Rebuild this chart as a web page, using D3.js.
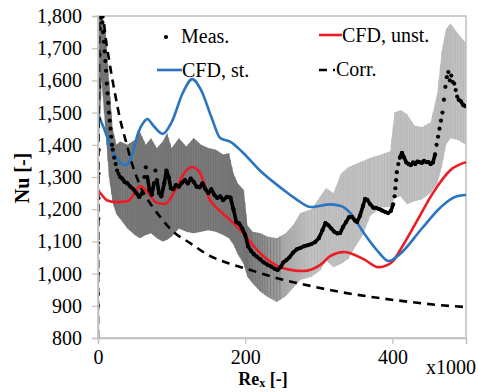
<!DOCTYPE html>
<html>
<head>
<meta charset="utf-8">
<script src="https://cdn.jsdelivr.net/npm/d3@7"></script>
<style>
  body { margin: 0; background: #fff; }
  #chart text { font-family: "Liberation Serif", "Tinos", "DejaVu Serif", serif; fill: #000; }
</style>
</head>
<body>
<svg id="chart"></svg>
<script>
// Re_x in thousands, Nu
const yTicks = [800, 900, 1000, 1100, 1200, 1300, 1400, 1500, 1600, 1700, 1800];
const xTicks = [0, 200, 400];

const measRe = [0, 0, 0.2, 0.3, 0.5, 0.6, 0.8, 1, 1.3, 1.6, 2, 2.5, 3, 4, 5, 6, 7, 8, 9, 10, 11, 12, 13, 14, 15, 16, 17, 18, 19, 20,
  22, 24, 26, 28, 30, 33, 36, 40, 44, 48, 52, 56, 60, 63, 65, 67, 70, 73, 76, 78, 80, 83, 86, 90, 93, 96, 99, 102, 106, 110,
  114, 118, 122, 126, 130, 134, 138, 142, 146, 150, 154, 158, 162, 166, 170, 175, 180, 184, 188, 192, 196, 200, 204, 208, 212,
  216, 220, 225, 230, 235, 240, 244, 248, 252, 256, 260, 265, 270, 275, 280, 285, 290, 295, 300, 305, 309, 313, 317, 321, 325,
  329, 333, 337, 341, 345, 349, 352, 356, 360, 363, 366, 370, 374, 378, 382, 386, 390, 394, 398, 401, 403, 404, 405, 406, 408,
  410, 413, 416, 419, 422, 425, 428, 431, 434, 437, 440, 443, 446, 449, 452, 455, 458, 460, 462, 464, 466, 468, 470, 472, 474,
  476, 478, 480, 482, 484, 486, 488, 490, 493, 496, 499];
const measNu = [900, 937, 1000, 1095, 1170, 1234, 1310, 1384, 1480, 1580, 1680, 1760, 1795, 1800, 1795, 1780, 1750, 1720, 1690, 1660,
  1630, 1590, 1560, 1530, 1500, 1475, 1450, 1425, 1400, 1385,
  1360, 1340, 1320, 1310, 1300, 1295, 1285, 1280, 1270, 1262, 1250, 1238, 1250, 1300, 1330, 1300, 1260, 1245, 1280, 1320,
  1290, 1250, 1240, 1280, 1320, 1300, 1265, 1262, 1275, 1270,
  1282, 1290, 1280, 1295, 1285, 1270, 1268, 1280, 1262, 1250, 1262, 1245, 1235, 1240, 1228, 1238, 1236, 1200, 1160, 1155,
  1140, 1120, 1085, 1070, 1060,
  1052, 1045, 1035, 1028, 1022, 1015, 1011, 1020, 1035, 1042, 1050, 1065, 1075, 1080, 1085, 1088, 1092, 1098, 1110, 1135,
  1157, 1150, 1140, 1130, 1125,
  1126, 1145, 1160, 1175, 1176, 1165, 1160, 1180, 1210, 1232, 1229, 1215, 1205, 1204, 1200, 1196, 1192, 1188, 1195, 1215,
  1240, 1265, 1290, 1315, 1340,
  1360, 1375, 1360, 1345, 1340, 1337, 1345, 1340, 1348, 1346, 1344, 1350, 1346, 1346, 1340, 1345, 1370, 1400, 1425, 1450,
  1475, 1500, 1540, 1580, 1610,
  1626, 1600, 1615, 1595, 1590, 1570, 1550, 1540, 1535, 1524, 1520];

const bandRe = [1, 5, 10, 15, 20, 25, 30, 40, 50, 57, 65, 72, 80, 88, 94, 100, 110, 120, 130, 140, 150, 160, 170, 178, 184,
  190, 198, 203, 210, 220, 230, 243, 255, 265, 275, 290, 302, 310, 320, 330, 340, 350, 360, 370, 385, 397, 403, 411, 420,
  430, 440, 452, 461, 467, 473, 479, 489, 500];
const bandHi = [1800, 1800, 1760, 1600, 1450, 1400, 1410, 1400, 1415, 1440, 1400, 1420, 1390, 1410, 1436, 1390, 1420, 1395,
  1421, 1400, 1390, 1385, 1370, 1374, 1312, 1280, 1260, 1150, 1130, 1126, 1115, 1110, 1125, 1150, 1188, 1200, 1240, 1265,
  1250, 1310, 1330, 1340, 1350, 1360, 1370, 1380, 1500, 1508, 1495, 1460, 1455, 1470, 1560, 1690, 1760, 1777, 1746, 1716];
const bandLo = [1400, 1600, 1450, 1300, 1220, 1185, 1170, 1140, 1120, 1110, 1120, 1125, 1110, 1100, 1105, 1115, 1140, 1130,
  1125, 1130, 1135, 1130, 1120, 1110, 1090, 1060, 1030, 990, 970, 945, 928, 912, 930, 955, 980, 990, 1010, 1040, 1020, 1030,
  1045, 1085, 1120, 1180, 1205, 1207, 1235, 1240, 1215, 1225, 1230, 1250, 1280, 1330, 1400, 1420, 1415, 1400];

const steadyRe = [0, 10, 20, 30, 37, 45, 55, 62, 67, 75, 88, 100, 115, 128, 140, 155, 166, 180, 195, 220, 252, 270, 289, 316,
  330, 343, 360, 380, 395, 410, 440, 466, 485, 500];
const steadyNu = [1496, 1440, 1380, 1345, 1337, 1360, 1440, 1470, 1480, 1460, 1434, 1470, 1560, 1604, 1570, 1480, 1421, 1409,
  1380, 1320, 1260, 1230, 1207, 1215, 1210, 1188, 1130, 1070, 1039, 1060, 1140, 1207, 1238, 1244];

const unsteadyRe = [0, 5, 12, 25, 40, 50, 57, 65, 80, 91, 105, 118, 128, 138, 152, 163, 180, 197, 220, 248, 279, 302, 316, 334,
  361, 381, 398, 415, 434, 455, 479, 500];
const unsteadyNu = [1260, 1245, 1228, 1222, 1225, 1250, 1272, 1258, 1220, 1216, 1260, 1315, 1331, 1315, 1229, 1200, 1166, 1126,
  1064, 1020, 1008, 1027, 1055, 1067, 1045, 1020, 1033, 1090, 1166, 1250, 1322, 1346];

const corrRe = [0, 1, 2, 4, 7, 10, 16, 23, 30, 38, 46, 60, 75, 88, 100, 125, 152, 180, 207, 250, 290, 329, 370, 420, 460, 500];
const corrNu = [800, 1450, 1800, 1830, 1800, 1740, 1650, 1560, 1480, 1410, 1343, 1260, 1205, 1166, 1135, 1095, 1055, 1030, 1011,
  982, 961, 943, 928, 913, 903, 896];

const serif = '"Liberation Serif", "Tinos", "DejaVu Serif", serif';
const svgWidth = 478;
const svgHeight = 392;
const margin = { top: 16, right: 12, bottom: 54, left: 98 };
const width = svgWidth - margin.left - margin.right;
const height = svgHeight - margin.top - margin.bottom;

const xScale = d3.scaleLinear().domain([0, 500]).range([0, width]);
const yScale = d3.scaleLinear().domain([800, 1800]).range([height, 0]);

const svg = d3.select('#chart')
  .attr('width', svgWidth)
  .attr('height', svgHeight)
  .attr('font-family', serif);

const defs = svg.append('defs');
defs.append('clipPath').attr('id', 'plotClip')
  .append('rect').attr('width', width).attr('height', height);

const grad = defs.append('linearGradient')
  .attr('id', 'bandFill')
  .attr('gradientUnits', 'userSpaceOnUse')
  .attr('x1', xScale(200)).attr('x2', xScale(290))
  .attr('y1', 0).attr('y2', 0);
grad.append('stop').attr('offset', 0).attr('stop-color', '#7c7c7c');
grad.append('stop').attr('offset', 1).attr('stop-color', '#c2c2c2');

const g = svg.append('g')
  .attr('transform', `translate(${margin.left}, ${margin.top})`);

// frame
g.append('rect')
  .attr('width', width).attr('height', height)
  .attr('fill', 'none').attr('stroke', '#bfbfbf').attr('stroke-width', 1.5);

const plot = g.append('g').attr('clip-path', 'url(#plotClip)');

// uncertainty band
const band = bandRe.map((r, i) => ({ r, hi: bandHi[i], lo: bandLo[i] }));
plot.append('path')
  .datum(band)
  .attr('fill', 'url(#bandFill)')
  .attr('d', d3.area()
    .x(d => xScale(d.r))
    .y0(d => yScale(d.lo))
    .y1(d => yScale(d.hi)));

// vertical error-bar texture
plot.append('g').selectAll('line')
  .data(d3.pairs(band).flatMap(([a, b]) => {
    const out = [];
    for (let t = 0; t < 1; t += 0.34) {
      out.push({ r: a.r + (b.r - a.r) * t, hi: a.hi + (b.hi - a.hi) * t, lo: a.lo + (b.lo - a.lo) * t });
    }
    return out;
  }))
  .enter().append('line')
    .attr('x1', d => xScale(d.r)).attr('x2', d => xScale(d.r))
    .attr('y1', d => yScale(d.hi)).attr('y2', d => yScale(d.lo))
    .attr('stroke', d => d.r < 250 ? '#6a6a6a' : '#b0b0b0')
    .attr('stroke-width', 0.6);

const line = d3.line().x(d => xScale(d[0])).y(d => yScale(d[1])).curve(d3.curveMonotoneX);

plot.append('path')
  .datum(corrRe.map((r, i) => [r, corrNu[i]]))
  .attr('fill', 'none').attr('stroke', '#000').attr('stroke-width', 2.6)
  .attr('stroke-dasharray', '8,6')
  .attr('d', line);

plot.append('path')
  .datum(unsteadyRe.map((r, i) => [r, unsteadyNu[i]]))
  .attr('fill', 'none').attr('stroke', '#ec1c24').attr('stroke-width', 2.6)
  .attr('d', line);

plot.append('path')
  .datum(steadyRe.map((r, i) => [r, steadyNu[i]]))
  .attr('fill', 'none').attr('stroke', '#2b74c0').attr('stroke-width', 2.6)
  .attr('d', line);

// measured points; in the densely sampled stretches neighbours merge into a thick trace
const meas = measRe.map((r, i) => [xScale(r), yScale(measNu[i])]);
plot.append('g').selectAll('line')
  .data(d3.pairs(meas).filter(([a, b]) => b[0] - a[0] > 2 && Math.abs(b[1] - a[1]) < 16))
  .enter().append('line')
    .attr('x1', d => d[0][0]).attr('y1', d => d[0][1])
    .attr('x2', d => d[1][0]).attr('y2', d => d[1][1])
    .attr('stroke', '#000').attr('stroke-width', 3.6).attr('stroke-linecap', 'round');
plot.append('g').selectAll('circle')
  .data(meas)
  .enter().append('circle')
    .attr('cx', d => d[0])
    .attr('cy', d => d[1])
    .attr('r', 2.1)
    .attr('fill', '#000');

// axes
const yAxis = d3.axisLeft(yScale).tickValues(yTicks).tickFormat(d3.format(',')).tickSize(6).tickPadding(10);
const xAxis = d3.axisBottom(xScale).tickValues(xTicks).tickFormat(d3.format('d')).tickSize(6).tickPadding(6);

const gy = g.append('g').call(yAxis);
const gx = g.append('g').attr('transform', `translate(0, ${height})`).call(xAxis);
[gy, gx].forEach(a => {
  a.attr('font-family', serif);
  a.select('.domain').attr('stroke', '#bfbfbf').attr('stroke-width', 1.5);
  a.selectAll('.tick line').attr('stroke', '#bfbfbf').attr('stroke-width', 1.2);
  a.selectAll('text').style('font-size', '20px').attr('fill', '#000');
});

svg.append('text')
  .attr('x', 426).attr('y', 374)
  .style('font-size', '20px')
  .text('x1000');

// axis titles
const xt = svg.append('text')
  .attr('x', 263).attr('y', 385)
  .attr('text-anchor', 'middle')
  .style('font-size', '18px').style('font-weight', 'bold');
xt.append('tspan').text('Re');
xt.append('tspan').attr('dy', 2).style('font-size', '12px').text('x');
xt.append('tspan').attr('dy', -2).text(' [-]');

svg.append('text')
  .attr('transform', 'translate(29, 178) rotate(-90)')
  .attr('text-anchor', 'middle')
  .style('font-size', '20px').style('font-weight', 'bold')
  .text('Nu [-]');

// legend
const legend = svg.append('g');
legend.append('circle').attr('cx', 166).attr('cy', 37).attr('r', 2.1).attr('fill', '#000');
legend.append('text').attr('x', 181).attr('y', 43).style('font-size', '20px').text('Meas.');

legend.append('line').attr('x1', 157).attr('x2', 182).attr('y1', 70).attr('y2', 70)
  .attr('stroke', '#2b74c0').attr('stroke-width', 2.6);
legend.append('text').attr('x', 182).attr('y', 77).style('font-size', '20px').text('CFD, st.');

legend.append('line').attr('x1', 319).attr('x2', 342).attr('y1', 35).attr('y2', 35)
  .attr('stroke', '#ec1c24').attr('stroke-width', 2.6);
legend.append('text').attr('x', 342).attr('y', 42).style('font-size', '20px').text('CFD, unst.');

legend.append('line').attr('x1', 319).attr('x2', 335).attr('y1', 70).attr('y2', 70)
  .attr('stroke', '#000').attr('stroke-width', 2.6).attr('stroke-dasharray', '8,6');
legend.append('text').attr('x', 336).attr('y', 76).style('font-size', '20px').text('Corr.');
</script>
</body>
</html>
